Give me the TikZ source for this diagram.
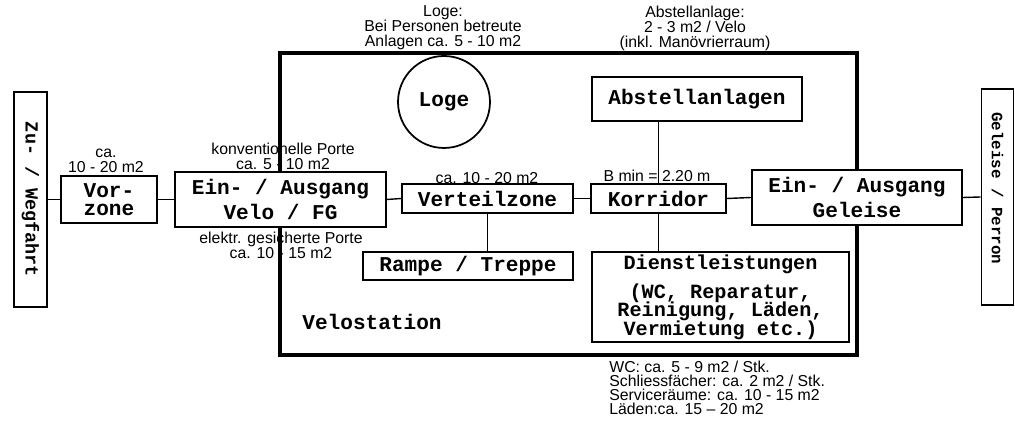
\documentclass[tikz,border=0pt]{standalone}
\usepackage{fontspec}
\setmainfont{Liberation Sans}
\setmonofont{Liberation Mono}
\usepackage{graphicx}
\newcommand\tightlines{\lineskiplimit=-10pt\relax}

\begin{document}
\begin{tikzpicture}[x=0.02cm,y=-0.02cm,
  box/.style={draw,line width=1pt,fill=white,inner sep=0pt,align=center,font=\ttfamily\bfseries\fontsize{12}{10.5}\selectfont},
  note/.style={inner sep=0pt,align=center,font=\fontsize{9}{8.5}\selectfont},
  link/.style={line width=0.8pt}]
\useasboundingbox (0,0) rectangle (1015,421);
% Angaben
\node[note] (nloge) at (443,28) {Loge:\\Bei Personen betreute\\Anlagen ca. 5 - 10 m2};
\node[note] (nabst) at (695,28) {Abstellanlage:\\2 - 3 m2 / Velo\\(inkl. Manövrierraum)};
\node[note] (nvor) at (106,161) {ca.\\10 - 20 m2};
\node[note] (nkonv) at (283,156) {konventionelle Porte\\ca. 5 - 10 m2};
\node[note] (nelek) at (281,245) {elektr. gesicherte Porte\\ca. 10 - 15 m2};
\node[note] (nvert) at (487,178) {ca. 10 - 20 m2};
\node[note] (nkor) at (657,176) {B min = 2.20 m};
\node[note,align=left,anchor=west,font=\fontsize{9}{8.1}\selectfont] (ndienst) at (609,388)
  {WC: ca. 5 - 9 m2 / Stk.\\Schliessfächer: ca. 2 m2 / Stk.\\Serviceräume: ca. 10 - 15 m2\\Läden:ca. 15 – 20 m2};
% Velostation
\draw[line width=2.5pt] (280,53) rectangle (857,355);
\node[font=\ttfamily\bfseries\fontsize{12}{10}\selectfont] (velo) at (372,322) {Velostation};
% Boxen
\node[box,minimum width=0.66cm,minimum height=4.3cm] (zu) at (30.5,199.5) {\rotatebox{-90}{\fontsize{10.5}{10}\selectfont Zu- / Wegfahrt}};
\node[box,minimum width=0.64cm,minimum height=4.32cm] (gp) at (997.5,197) {\rotatebox{-90}{\fontsize{9}{10}\selectfont Geleise / Perron\hspace{10pt}}};
\node[box,minimum width=1.92cm,minimum height=0.94cm] (vor) at (109,199.5) {Vor-\\zone};
\node[box,minimum width=4.22cm,minimum height=1.1cm] (einv) at (280.5,199.5) {Ein- / Ausgang\\[2pt]Velo / FG};
\node[box,minimum width=3.42cm,minimum height=0.58cm] (vert) at (487.5,198.5) {Verteilzone};
\node[box,minimum width=2.7cm,minimum height=0.58cm] (kor) at (658.5,198.5) {Korridor};
\node[box,minimum width=4.2cm,minimum height=1.1cm] (eing) at (857,197.5) {Ein- / Ausgang\\[2pt]Geleise};
\node[box,minimum width=4.2cm,minimum height=0.88cm] (abst) at (697,99) {Abstellanlagen};
\node[box,minimum width=4.2cm,minimum height=0.56cm] (rampe) at (468,266) {Rampe / Treppe};
\node[box,minimum width=5.14cm,minimum height=1.8cm,font=\ttfamily\bfseries\fontsize{11.5}{10.5}\selectfont\tightlines] (dienst) at (720.5,297)
  {Dienstleistungen\\[6pt](WC, Reparatur,\\Reinigung, Läden,\\Vermietung etc.)};
\node[box,circle,minimum size=1.84cm] (loge) at (444,102) {Loge};
% Verbindungen
\draw[link] (vor.west) -- (vor.west -| zu.east);
\draw[link] (vor.east) -- (einv.west);
\draw[link] (einv.east) -- (vert.west);
\draw[link] (vert.east) -- (kor.west);
\draw[link] (kor.east) -- (eing.west);
\draw[link] (eing.east) -- (gp.west);
\draw[link] (vert.south) -- (vert.south |- rampe.north);
\draw[line width=0.5pt] (kor.north) -- (kor.north |- abst.south);
\draw[line width=0.5pt] (kor.south) -- (kor.south |- dienst.north);
\end{tikzpicture}
\end{document}
